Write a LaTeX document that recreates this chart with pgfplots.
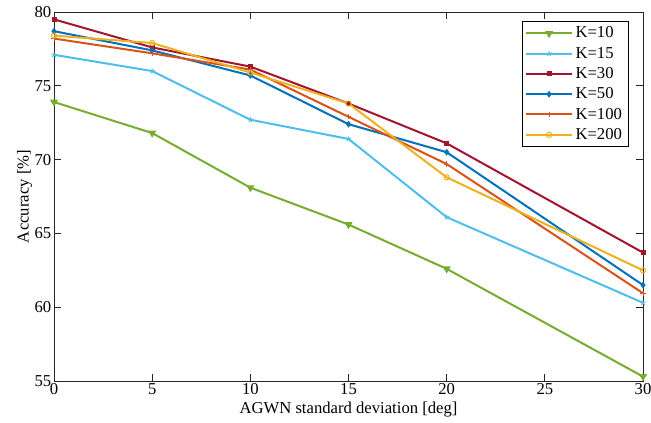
\documentclass[border=0pt]{standalone}
\usepackage{pgfplots}
\pgfplotsset{compat=1.18}
\usepackage{fontspec}
\setmainfont{Liberation Serif}
\usetikzlibrary{calc}
\definecolor{c10}{rgb}{0.466,0.674,0.188}
\definecolor{c15}{rgb}{0.301,0.745,0.933}
\definecolor{c30}{rgb}{0.635,0.078,0.184}
\definecolor{c50}{rgb}{0,0.447,0.741}
\definecolor{c100}{rgb}{0.85,0.325,0.098}
\definecolor{c200}{rgb}{0.929,0.694,0.125}
\definecolor{axgray}{rgb}{0.15,0.15,0.15}
\begin{document}
\begin{tikzpicture}
\begin{axis}[
  scale only axis,
  width=441.75pt, height=276.75pt,
  xmin=0, xmax=30, ymin=55, ymax=80,
  xtick={0,5,...,30}, ytick={55,60,...,80},
  tick align=inside,
  axis line style={axgray, line width=0.6pt},
  tick style={axgray, line width=0.6pt},
  major tick length=5pt,
  every tick label/.append style={font=\fontsize{12.5}{13}\selectfont, text=black},
  xticklabel style={yshift=1.5pt},
  yticklabel style={xshift=1.5pt},
  /pgf/number format/assume math mode=true,
  xlabel={AGWN standard deviation [deg]},
  ylabel={Accuracy [\%]},
  label style={font=\fontsize{12.5}{13}\selectfont},
  xlabel style={yshift=2pt},
  ylabel style={yshift=-5pt},
  legend style={at={(0.975,0.975)}, anchor=north east, draw=black, line width=0.5pt,
    font=\fontsize{12.5}{13}\selectfont, row sep=1.4pt, inner xsep=2.5pt, inner ysep=2pt},
  legend cell align=left,
  legend image code/.code={
    \draw[mark repeat=2,mark phase=2,#1] plot coordinates {(0cm,0cm) (0.6cm,0cm) (1.2cm,0cm)};
  },
  every axis plot/.append style={line width=1.5pt, mark size=2pt, mark options={solid, line width=0.7pt}},
]
\coordinate (bl) at (rel axis cs:0,0);
\coordinate (tr) at (rel axis cs:1,1);
\addplot[c10, mark=triangle*, mark options={rotate=180}] coordinates {(0,73.9) (5,71.8) (10,68.1) (15,65.6) (20,62.6) (30,55.3)};
\addlegendentry{K=10}
\addplot[c15, mark=star] coordinates {(0,77.1) (5,76.0) (10,72.7) (15,71.4) (20,66.1) (30,60.3)};
\addlegendentry{K=15}
\addplot[c30, mark=square*, mark size=1.5pt] coordinates {(0,79.5) (5,77.6) (10,76.3) (15,73.8) (20,71.1) (30,63.7)};
\addlegendentry{K=30}
\addplot[c50, mark=diamond*, mark size=2pt] coordinates {(0,78.7) (5,77.4) (10,75.7) (15,72.4) (20,70.5) (30,61.5)};
\addlegendentry{K=50}
\addplot[c100, mark=+] coordinates {(0,78.2) (5,77.2) (10,76.1) (15,72.9) (20,69.7) (30,60.95)};
\addlegendentry{K=100}
\addplot[c200, mark=o] coordinates {(0,78.4) (5,77.9) (10,75.9) (15,73.8) (20,68.8) (30,62.5)};
\addlegendentry{K=200}
\end{axis}
\pgfresetboundingbox
\path ($(bl)+(-40.5pt,-30.75pt)$) rectangle ($(tr)+(6pt,9pt)$);
\end{tikzpicture}
\end{document}
